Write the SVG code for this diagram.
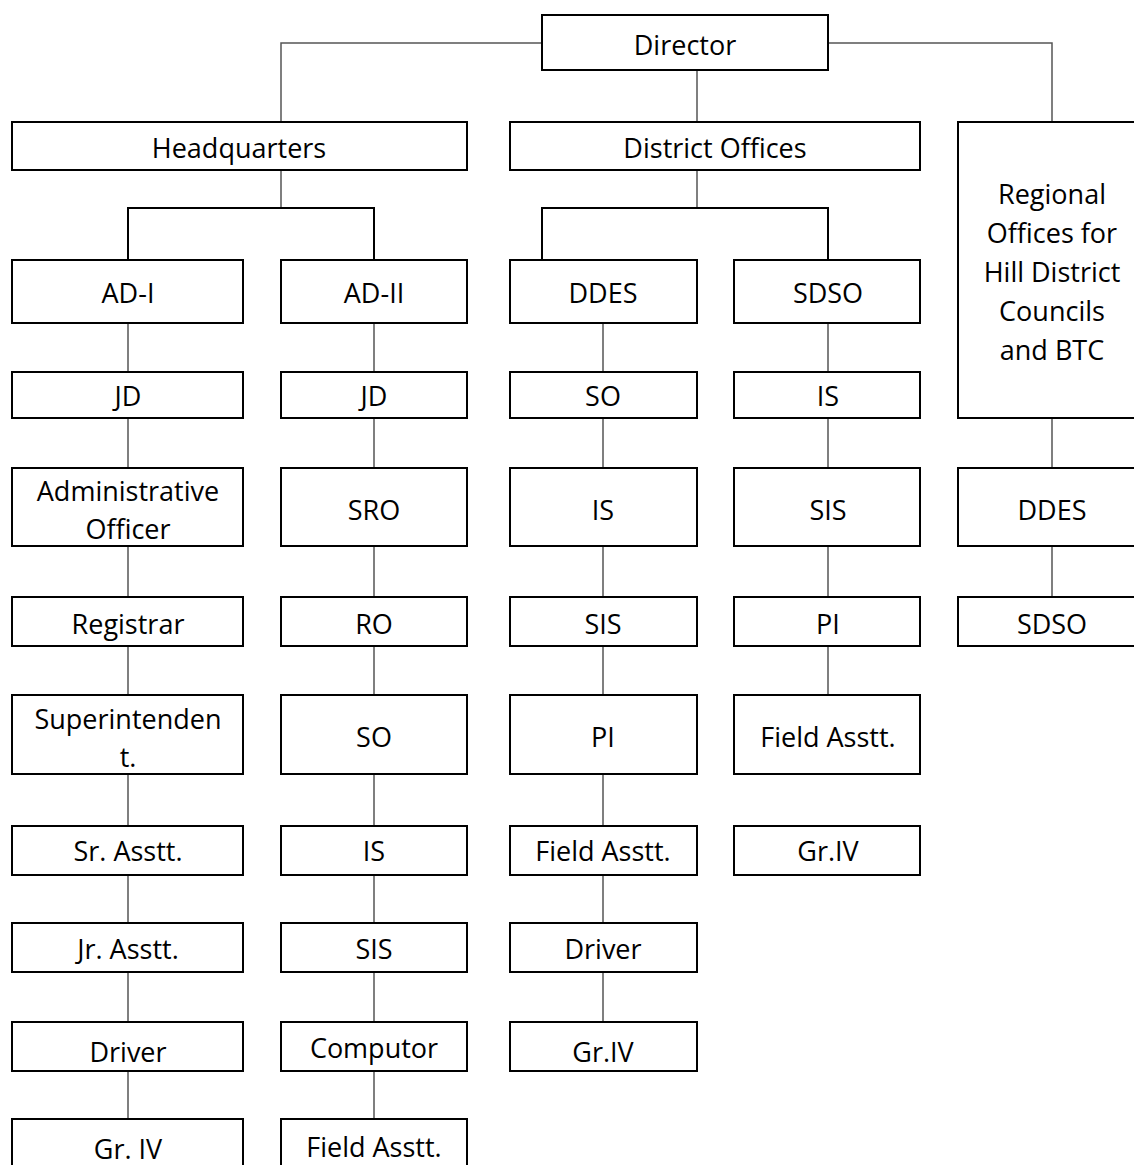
<svg xmlns="http://www.w3.org/2000/svg" width="1134" height="1165" viewBox="0 0 1134 1165">
<style>
.box{fill:#fff;stroke:#000;stroke-width:2}
.t{font-family:"Open Sans","Noto Sans",sans-serif;font-size:27px;fill:#000;text-anchor:middle;dominant-baseline:central}
.c{stroke:#555;stroke-width:1.5;fill:none}
.cb{stroke:#000;stroke-width:2;fill:none}
</style>
<rect width="1134" height="1165" fill="#fff"/>
<g id="connectors">
<path class="c" d="M542 43H281V122"/>
<path class="c" d="M828 43H1052V122"/>
<path class="c" d="M697 70V122"/>
<path class="c" d="M281 170V208"/>
<path class="cb" d="M128 260V208H374V260"/>
<path class="c" d="M697 170V208"/>
<path class="cb" d="M542 260V208H828V260"/>
<path class="c" d="M128 323V372M128 418V468M128 546V597M128 646V695M128 774V826M128 875V923M128 972V1022M128 1071V1119"/>
<path class="c" d="M374 323V372M374 418V468M374 546V597M374 646V695M374 774V826M374 875V923M374 972V1022M374 1071V1119"/>
<path class="c" d="M603 323V372M603 418V468M603 546V597M603 646V695M603 774V826M603 875V923M603 972V1022"/>
<path class="c" d="M828 323V372M828 418V468M828 546V597M828 646V695"/>
<path class="c" d="M1052 418V468M1052 546V597"/>
</g>
<g id="director"><rect class="box" x="542" y="15" width="286" height="55"/><text class="t" x="685" y="44">Director</text></g>
<g id="headquarters"><rect class="box" x="12" y="122" width="455" height="48"/><text class="t" x="239" y="147">Headquarters</text></g>
<g id="district-offices"><rect class="box" x="510" y="122" width="410" height="48"/><text class="t" x="715" y="147">District Offices</text></g>
<g id="regional-offices"><rect class="box" x="958" y="122" width="190" height="296"/><text class="t" x="1052" y="193">Regional</text><text class="t" x="1052" y="232">Offices for</text><text class="t" x="1052" y="271">Hill District</text><text class="t" x="1052" y="310">Councils</text><text class="t" x="1052" y="349">and BTC</text></g>

<g id="ad1"><rect class="box" x="12" y="260" width="231" height="63"/><text class="t" x="128" y="292">AD-I</text></g>
<g id="jd1"><rect class="box" x="12" y="372" width="231" height="46"/><text class="t" x="128" y="395">JD</text></g>
<g id="admin-officer"><rect class="box" x="12" y="468" width="231" height="78"/><text class="t" x="128" y="490">Administrative</text><text class="t" x="128" y="528">Officer</text></g>
<g id="registrar"><rect class="box" x="12" y="597" width="231" height="49"/><text class="t" x="128" y="623">Registrar</text></g>
<g id="superintendent"><rect class="box" x="12" y="695" width="231" height="79"/><text class="t" x="128" y="718">Superintenden</text><text class="t" x="128" y="756">t.</text></g>
<g id="sr-asstt"><rect class="box" x="12" y="826" width="231" height="49"/><text class="t" x="128" y="850">Sr. Asstt.</text></g>
<g id="jr-asstt"><rect class="box" x="12" y="923" width="231" height="49"/><text class="t" x="128" y="948">Jr. Asstt.</text></g>
<g id="driver1"><rect class="box" x="12" y="1022" width="231" height="49"/><text class="t" x="128" y="1051">Driver</text></g>
<g id="gr4-1"><rect class="box" x="12" y="1119" width="231" height="60"/><text class="t" x="128" y="1148">Gr. IV</text></g>

<g id="ad2"><rect class="box" x="281" y="260" width="186" height="63"/><text class="t" x="374" y="292">AD-II</text></g>
<g id="jd2"><rect class="box" x="281" y="372" width="186" height="46"/><text class="t" x="374" y="395">JD</text></g>
<g id="sro"><rect class="box" x="281" y="468" width="186" height="78"/><text class="t" x="374" y="509">SRO</text></g>
<g id="ro"><rect class="box" x="281" y="597" width="186" height="49"/><text class="t" x="374" y="623">RO</text></g>
<g id="so2"><rect class="box" x="281" y="695" width="186" height="79"/><text class="t" x="374" y="736">SO</text></g>
<g id="is2"><rect class="box" x="281" y="826" width="186" height="49"/><text class="t" x="374" y="850">IS</text></g>
<g id="sis2"><rect class="box" x="281" y="923" width="186" height="49"/><text class="t" x="374" y="948">SIS</text></g>
<g id="computor"><rect class="box" x="281" y="1022" width="186" height="49"/><text class="t" x="374" y="1047">Computor</text></g>
<g id="field-asstt2"><rect class="box" x="281" y="1119" width="186" height="60"/><text class="t" x="374" y="1146">Field Asstt.</text></g>

<g id="ddes"><rect class="box" x="510" y="260" width="187" height="63"/><text class="t" x="603" y="292">DDES</text></g>
<g id="so3"><rect class="box" x="510" y="372" width="187" height="46"/><text class="t" x="603" y="395">SO</text></g>
<g id="is3"><rect class="box" x="510" y="468" width="187" height="78"/><text class="t" x="603" y="509">IS</text></g>
<g id="sis3"><rect class="box" x="510" y="597" width="187" height="49"/><text class="t" x="603" y="623">SIS</text></g>
<g id="pi3"><rect class="box" x="510" y="695" width="187" height="79"/><text class="t" x="603" y="736">PI</text></g>
<g id="field-asstt3"><rect class="box" x="510" y="826" width="187" height="49"/><text class="t" x="603" y="850">Field Asstt.</text></g>
<g id="driver3"><rect class="box" x="510" y="923" width="187" height="49"/><text class="t" x="603" y="948">Driver</text></g>
<g id="gr4-3"><rect class="box" x="510" y="1022" width="187" height="49"/><text class="t" x="603" y="1051">Gr.IV</text></g>

<g id="sdso"><rect class="box" x="734" y="260" width="186" height="63"/><text class="t" x="828" y="292">SDSO</text></g>
<g id="is4"><rect class="box" x="734" y="372" width="186" height="46"/><text class="t" x="828" y="395">IS</text></g>
<g id="sis4"><rect class="box" x="734" y="468" width="186" height="78"/><text class="t" x="828" y="509">SIS</text></g>
<g id="pi4"><rect class="box" x="734" y="597" width="186" height="49"/><text class="t" x="828" y="623">PI</text></g>
<g id="field-asstt4"><rect class="box" x="734" y="695" width="186" height="79"/><text class="t" x="828" y="736">Field Asstt.</text></g>
<g id="gr4-4"><rect class="box" x="734" y="826" width="186" height="49"/><text class="t" x="828" y="850">Gr.IV</text></g>

<g id="ddes5"><rect class="box" x="958" y="468" width="190" height="78"/><text class="t" x="1052" y="509">DDES</text></g>
<g id="sdso5"><rect class="box" x="958" y="597" width="190" height="49"/><text class="t" x="1052" y="623">SDSO</text></g>
</svg>
